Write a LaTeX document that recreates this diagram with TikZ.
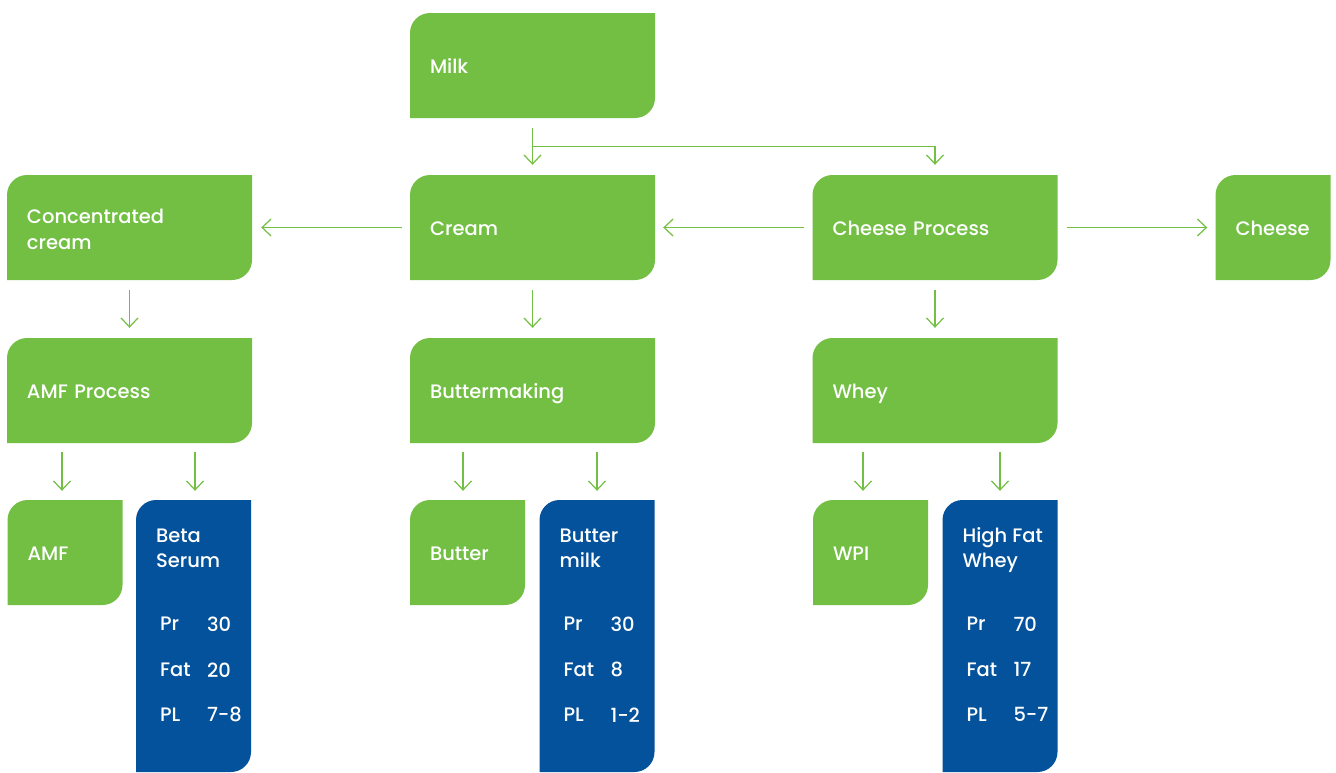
\documentclass[tikz,border=0pt]{standalone}
\usepackage{fontspec}
\setmainfont{Poppins}[UprightFont=* Medium]
\usetikzlibrary{arrows.meta,calc}
\definecolor{dgreen}{HTML}{72BF44}
\definecolor{dblue}{HTML}{03529B}
\tikzset{
  shapefill/.style={path picture={
      \fill[#1] (path picture bounding box.south west)
        -- ([yshift=-20pt]path picture bounding box.north west)
        arc[start angle=180,end angle=90,radius=20pt]
        -- (path picture bounding box.north east)
        -- ([yshift=20pt]path picture bounding box.south east)
        arc[start angle=0,end angle=-90,radius=20pt] -- cycle;}},
  gboxbase/.style={shapefill=dgreen, minimum width=245pt, minimum height=105pt,
    text width=205pt, inner xsep=20pt, inner ysep=0pt, align=left,
    text=white, font=\fontsize{19.5}{26}\selectfont},
  gbox/.style={gboxbase, text height=16pt, text depth=0pt},
  sbox/.style={gbox, minimum width=115pt, text width=75pt},
  bbox/.style={shapefill=dblue, minimum width=115pt, minimum height=272pt, inner sep=0pt},
  btxt/.style={text=white, font=\fontsize{19.5}{25}\selectfont, inner sep=0pt, anchor=west, align=left},
  arr/.style={draw=dgreen, line width=1.2pt, -{Straight Barb[length=9pt,width=17pt,line width=1.2pt]}},
}
\newcommand{\bluedata}[4]{%
  \node[btxt] (#1p) at ($(#1.north west)+(24pt,-124pt)$) {Pr};
  \node[btxt] (#1pv) at ($(#1.north west)+(71pt,-124pt)$) {#2};
  \node[btxt] (#1f) at ($(#1.north west)+(24pt,-170pt)$) {Fat};
  \node[btxt] (#1fv) at ($(#1.north west)+(71pt,-170pt)$) {#3};
  \node[btxt] (#1l) at ($(#1.north west)+(24pt,-215pt)$) {PL};
  \node[btxt] (#1lv) at ($(#1.north west)+(71pt,-215pt)$) {#4};
}
\begin{document}
\begin{tikzpicture}[x=1pt,y=-1pt]
\useasboundingbox (0,0) rectangle (1336,772);
% row 1
\node[gbox] (milk) at (532.5,65.5) {Milk};
% row 2
\node[gboxbase] (cc) at (129.5,227.5) {\rule{0pt}{19pt}Concentrated\\cream};
\node[gbox] (cream) at (532.5,227.5) {Cream};
\node[gbox] (cp) at (935,227.5) {Cheese Process};
\node[sbox] (cheese) at (1273,227.5) {Cheese};
% row 3
\node[gbox] (amfp) at (129.5,390.5) {AMF Process};
\node[gbox] (bm) at (532.5,390.5) {Buttermaking};
\node[gbox] (whey) at (935,390.5) {Whey};
% row 4
\node[sbox] (amf) at (65,552.5) {AMF};
\node[bbox] (bs) at (193.5,636) {};
\node[sbox] (butter) at (467.5,552.5) {Butter};
\node[bbox] (bmilk) at (597,636) {};
\node[sbox] (wpi) at (870.5,552.5) {WPI};
\node[bbox] (hfw) at (1000,636) {};
\node[btxt, anchor=north west] (bst) at ($(bs.north west)+(20pt,-29pt)$) {Beta\\Serum};
\node[btxt, anchor=north west] (bmilkt) at ($(bmilk.north west)+(20pt,-29pt)$) {Butter\\milk};
\node[btxt, anchor=north west] (hfwt) at ($(hfw.north west)+(20pt,-27pt)$) {High Fat\\Whey};
\bluedata{bs}{30}{20}{7-8}
\bluedata{bmilk}{30}{8}{1-2}
\bluedata{hfw}{70}{17}{5-7}
% connectors
\coordinate (br) at ($(milk.south)!0.5!(cream.north)$);
\draw[arr, shorten <=10pt, shorten >=10pt] (milk) -- (cream);
\draw[arr, shorten >=10pt] (br) -| (cp.north);
\draw[arr, shorten <=8pt, shorten >=9pt] (cream.west) -- (cc.east);
\draw[arr, shorten <=8pt, shorten >=8pt] (cp.west) -- (cream.east);
\draw[arr, shorten <=9pt, shorten >=8pt] (cp.east) -- (cheese.west);
\draw[arr, shorten <=10pt, shorten >=10pt] (cc) -- (amfp);
\draw[arr, shorten <=10pt, shorten >=10pt] (cream) -- (bm);
\draw[arr, shorten <=10pt, shorten >=10pt] (cp) -- (whey);
\draw[arr, shorten <=9pt, shorten >=9pt] ([xshift=-3pt]amfp.south -| amf.north) -- ([xshift=-3pt]amf.north);
\draw[arr, shorten <=9pt, shorten >=9pt] ([xshift=1.5pt]amfp.south -| bs.north) -- ([xshift=1.5pt]bs.north);
\draw[arr, shorten <=9pt, shorten >=9pt] ([xshift=-4.5pt]bm.south -| butter.north) -- ([xshift=-4.5pt]butter.north);
\draw[arr, shorten <=9pt, shorten >=9pt] (bm.south -| bmilk.north) -- (bmilk.north);
\draw[arr, shorten <=9pt, shorten >=9pt] ([xshift=-7.5pt]whey.south -| wpi.north) -- ([xshift=-7.5pt]wpi.north);
\draw[arr, shorten <=9pt, shorten >=9pt] (whey.south -| hfw.north) -- (hfw.north);
\end{tikzpicture}
\end{document}
